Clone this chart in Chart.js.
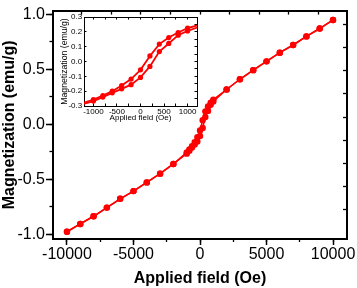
<!DOCTYPE html>
<html>
<head>
<meta charset="utf-8">
<script src="https://cdn.jsdelivr.net/npm/chart.js@4.4.1/dist/chart.umd.min.js"></script>
<style>
  html, body { margin: 0; padding: 0; background: #fff; }
  #wrap { position: relative; width: 357px; height: 288px; }
  #main { position: absolute; left: 0; top: 0; width: 357px; height: 288px; }
  #inset { position: absolute; left: 56px; top: 8px; width: 146px; height: 116px; }
</style>
</head>
<body>
<div id="wrap">
  <canvas id="main" width="357" height="288"></canvas>
  <canvas id="inset" width="146" height="116"></canvas>
</div>
<script>
// field sweep from +10 kOe down to -10 kOe
const fieldDown = [10000, 9000, 8000, 7000, 6000, 5000, 4000, 3000, 2000, 1000, 800, 600, 400, 200, 0,
  -200, -400, -600, -800, -1000, -2000, -3000, -4000, -5000, -6000, -7000, -8000, -9000, -10000];
const momentDown = [0.95, 0.872, 0.80, 0.722, 0.652, 0.573, 0.493, 0.41, 0.317, 0.225, 0.196, 0.162, 0.118, 0.038, -0.056,
  -0.118, -0.162, -0.2, -0.229, -0.256, -0.361, -0.449, -0.529, -0.608, -0.678, -0.758, -0.837, -0.907, -0.978];

// and back up again
const fieldUp = [-10000, -9000, -8000, -7000, -6000, -5000, -4000, -3000, -2000, -1000, -800, -600, -400, -200, 0,
  200, 400, 600, 800, 1000, 2000, 3000, 4000, 5000, 6000, 7000, 8000, 9000, 10000];
const momentUp = [-0.978, -0.907, -0.837, -0.758, -0.678, -0.608, -0.529, -0.449, -0.361, -0.267, -0.24, -0.211, -0.184, -0.156, -0.107,
  -0.033, 0.067, 0.122, 0.178, 0.207, 0.317, 0.41, 0.493, 0.573, 0.652, 0.722, 0.80, 0.872, 0.95];

// tick positions
const xTicks = [-10000, -5000, 0, 5000, 10000];
const xMinorTicks = [-10000, -7500, -5000, -2500, 0, 2500, 5000, 7500, 10000];
const yTicks = [-1.0, -0.5, 0.0, 0.5, 1.0];
const yMinorTicks = [-1.0, -0.75, -0.5, -0.25, 0.0, 0.25, 0.5, 0.75, 1.0];
const insetXTicks = [-1000, -750, -500, -250, 0, 250, 500, 750, 1000];
const insetXLabels = [-1000, -500, 0, 500, 1000];
const insetYTicks = [-0.3, -0.25, -0.2, -0.15, -0.1, -0.05, 0.0, 0.05, 0.1, 0.15, 0.2, 0.25, 0.3];

const xTitle = 'Applied field (Oe)';
const yTitle = 'Magnetization (emu/g)';

Chart.defaults.font.family = "'Liberation Sans', Arial, sans-serif";
Chart.defaults.color = '#000';
Chart.defaults.animation = false;

const red = '#ff0000';

function branch(xs, ys, r, w) {
  return {
    data: xs.map((x, i) => ({ x: x, y: ys[i] })),
    showLine: true,
    borderColor: red,
    backgroundColor: red,
    pointBackgroundColor: red,
    pointBorderWidth: 0,
    pointRadius: r,
    borderWidth: w
  };
}

const useTicks = arr => s => { s.ticks = arr.map(v => ({ value: v })); };

function tickOnly(pos, min, max, arr, len, size, borderW) {
  return {
    type: 'linear', position: pos, min: min, max: max, weight: 0,
    ticks: { display: false },
    afterBuildTicks: useTicks(arr),
    grid: { drawOnChartArea: false, tickLength: len, tickColor: '#000', tickWidth: borderW ? 1 : 1.3 },
    border: borderW ? { color: '#000', width: borderW } : { display: false },
    afterFit: s => { if (s.isHorizontal()) s.height = size; else s.width = size; }
  };
}

new Chart(document.getElementById('main'), {
  type: 'scatter',
  data: { datasets: [branch(fieldDown, momentDown, 3.2, 1.5), branch(fieldUp, momentUp, 3.2, 1.5)] },
  options: {
    responsive: false,
    layout: { padding: 0 },
    plugins: { legend: { display: false }, tooltip: { enabled: false } },
    scales: {
      x: {
        type: 'linear', position: 'bottom', weight: 1, min: -11050, max: 11050,
        afterBuildTicks: useTicks(xTicks),
        ticks: { maxRotation: 0, autoSkip: false, padding: 0, font: { size: 16 }, callback: v => String(v) },
        grid: { drawOnChartArea: false, tickLength: 6, tickColor: '#000', tickWidth: 1.5 },
        border: { color: '#000', width: 2 },
        title: { display: true, text: xTitle, padding: 0, font: { size: 16, weight: 'bold' } },
        afterFit: s => { s.height = 49; }
      },
      xMinor: tickOnly('bottom', -11050, 11050, xMinorTicks, 3, 0),
      x2: {
        type: 'linear', position: 'top', min: -4.983, max: 4.983,
        ticks: { display: false, stepSize: 1, includeBounds: false },
        grid: { drawOnChartArea: false, tickLength: -4, tickColor: '#000', tickWidth: 1.3 },
        border: { color: '#000', width: 2 },
        afterFit: s => { s.height = 3; }
      },
      y: {
        type: 'linear', position: 'left', weight: 1, min: -1.044, max: 1.035,
        afterBuildTicks: useTicks(yTicks),
        ticks: { padding: 1, font: { size: 16 }, callback: v => v.toFixed(1) },
        grid: { drawOnChartArea: false, tickLength: 7, tickColor: '#000', tickWidth: 1.5 },
        border: { color: '#000', width: 2 },
        title: { display: true, text: yTitle, padding: 0, font: { size: 16, weight: 'bold' } },
        afterFit: s => { s.width = 53; }
      },
      yMinor: tickOnly('left', -1.044, 1.035, yMinorTicks, 3.5, 0),
      y2: {
        type: 'linear', position: 'right', min: -0.25, max: 9.583,
        ticks: { display: false, stepSize: 1, includeBounds: false },
        afterBuildTicks: s => { s.ticks = s.ticks.filter(t => t.value >= 1); },
        grid: { drawOnChartArea: false, tickLength: -4, tickColor: '#000', tickWidth: 1.3 },
        border: { color: '#000', width: 2 },
        afterFit: s => { s.width = 10; }
      }
    }
  }
});

// inset: zoom on the low-field loop
new Chart(document.getElementById('inset'), {
  type: 'scatter',
  data: { datasets: [branch(fieldDown, momentDown, 2.6, 1.8), branch(fieldUp, momentUp, 2.6, 1.8)] },
  options: {
    responsive: false,
    layout: { padding: 0 },
    plugins: { legend: { display: false }, tooltip: { enabled: false } },
    scales: {
      x: {
        type: 'linear', position: 'bottom', min: -1200, max: 1200,
        afterBuildTicks: useTicks(insetXTicks),
        ticks: { maxRotation: 0, autoSkip: false, padding: 3.9, font: { size: 8 },
          callback: v => (insetXLabels.includes(v) ? String(v) : '') },
        grid: { drawOnChartArea: false, tickLength: -2.5, tickColor: '#000' },
        border: { color: '#000', width: 1 },
        title: { display: true, text: xTitle, padding: 1.2, font: { size: 8 } },
        afterFit: s => { s.height = 18; }
      },
      x2: tickOnly('top', -1200, 1200, insetXTicks, -2.5, 7, 1),
      y: {
        type: 'linear', position: 'left', min: -0.3, max: 0.3,
        afterBuildTicks: useTicks(insetYTicks),
        ticks: { padding: 4.3, font: { size: 8 },
          callback: v => (Math.round(v * 20) % 2 === 0 ? v.toFixed(1) : '') },
        grid: { drawOnChartArea: false, tickLength: -2.5, tickColor: '#000' },
        border: { color: '#000', width: 1 },
        title: { display: true, text: yTitle, padding: 3.8, font: { size: 8.7 } },
        afterFit: s => { s.width = 28; }
      },
      y2: tickOnly('right', -0.3, 0.3, insetYTicks, -2.5, 5, 1)
    }
  }
});
</script>
</body>
</html>
